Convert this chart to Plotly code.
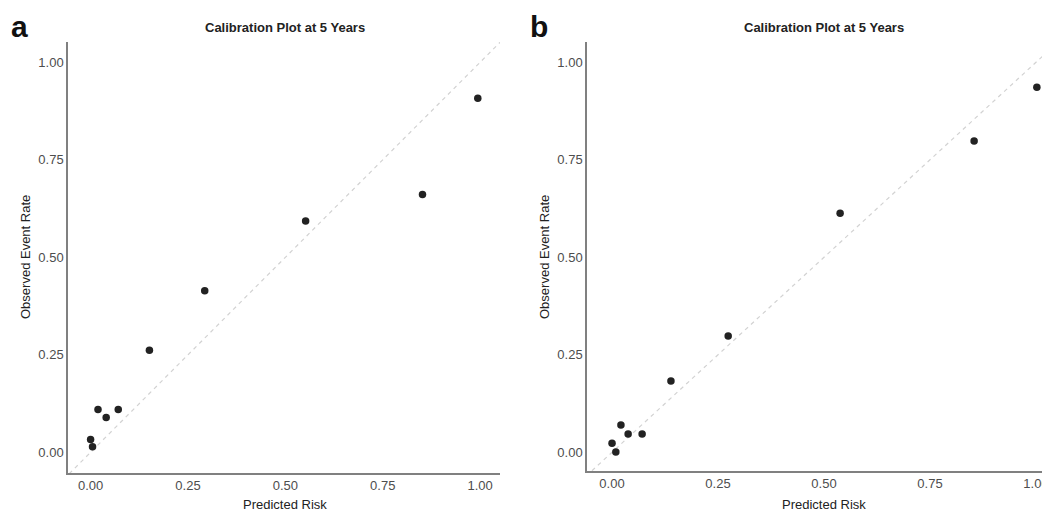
import plotly.graph_objects as go

# ---- data ----
pred_a = [0.000, 0.005, 0.019, 0.040, 0.071, 0.151, 0.293, 0.552, 0.852, 0.994]
obs_a = [0.033, 0.014, 0.110, 0.089, 0.110, 0.262, 0.414, 0.593, 0.661, 0.908]
pred_b = [0.000, 0.009, 0.021, 0.038, 0.071, 0.139, 0.274, 0.538, 0.854, 1.002]
obs_b = [0.023, 0.001, 0.070, 0.047, 0.047, 0.183, 0.298, 0.613, 0.798, 0.936]
tick_vals = [0, 0.25, 0.5, 0.75, 1.0]
tick_text = ["0.00", "0.25", "0.50", "0.75", "1.00"]
panel_labels = ["a", "b"]
title_text = "Calibration Plot at 5 Years"
x_title = "Predicted Risk"
y_title = "Observed Event Rate"
diag = [-0.2, 1.2]

# page has an 8px body margin, so the figure is sized to fill the window exactly
OFF = 8
W, H = 1050 - OFF, 512 - OFF
FONT = "Liberation Sans, Arial, sans-serif"

def px_x(p):
    return (p - OFF) / W

def px_y(p):
    return (H - (p - OFF)) / H

fig = go.Figure()

for i, (px_, ob_) in enumerate([(pred_a, obs_a), (pred_b, obs_b)]):
    xa = "x" if i == 0 else "x2"
    ya = "y" if i == 0 else "y2"
    fig.add_trace(go.Scatter(x=diag, y=diag, mode="lines", xaxis=xa, yaxis=ya,
                             line=dict(color="#d2d2d2", width=1.2, dash="4px,4px"),
                             hoverinfo="skip", showlegend=False))
    fig.add_trace(go.Scatter(x=px_, y=ob_, mode="markers", xaxis=xa, yaxis=ya,
                             marker=dict(color="#222222", size=7.5),
                             showlegend=False))

axis_common = dict(
    showgrid=False, zeroline=False, showline=True, linecolor="#808080", linewidth=1.5,
    ticks="", tickvals=tick_vals, ticktext=tick_text,
    tickfont=dict(family=FONT, size=13, color="#4d4d4d"),
    fixedrange=True,
)

fig.update_layout(
    width=W, height=H,
    margin=dict(l=0, r=0, t=0, b=0),
    paper_bgcolor="white", plot_bgcolor="white",
    font=dict(family=FONT),
    xaxis=dict(domain=[px_x(68), px_x(500)], range=[-0.058, 1.051], anchor="y", **axis_common),
    yaxis=dict(domain=[px_y(473), px_y(42)], range=[-0.053, 1.052], anchor="x", **axis_common),
    xaxis2=dict(domain=[px_x(587), 1.0], range=[-0.059, 1.033], anchor="y2", **axis_common),
    yaxis2=dict(domain=[px_y(471), px_y(42)], range=[-0.048, 1.052], anchor="x2", **axis_common),
)

annotations = []
for i in range(2):
    xr = "x" if i == 0 else "x2"
    annotations.append(dict(text="<b>" + title_text + "</b>", xref=xr, yref="paper",
                            x=0.5, y=px_y(28), xanchor="center", yanchor="middle",
                            showarrow=False, font=dict(family=FONT, size=13, color="#222222")))
    annotations.append(dict(text=x_title, xref=xr, yref="paper",
                            x=0.5, y=px_y(504), xanchor="center", yanchor="middle",
                            showarrow=False, font=dict(family=FONT, size=13, color="#222222")))
    annotations.append(dict(text=y_title, xref="paper", yref="paper", textangle=-90,
                            x=px_x(25 if i == 0 else 544), y=px_y(257),
                            xanchor="center", yanchor="middle",
                            showarrow=False, font=dict(family=FONT, size=13, color="#222222")))
    annotations.append(dict(text="<b>" + panel_labels[i] + "</b>", xref="paper", yref="paper",
                            x=px_x(9 if i == 0 else 528), y=px_y(27),
                            xanchor="left", yanchor="middle",
                            showarrow=False, font=dict(family=FONT, size=30, color="#111111")))

fig.update_layout(annotations=annotations)

fig.write_html("out.html")
